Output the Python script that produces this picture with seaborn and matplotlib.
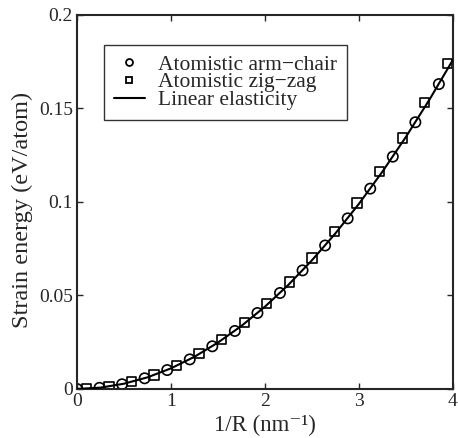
import seaborn as sns
import pandas as pd
import numpy as np
import matplotlib.pyplot as plt
from matplotlib.lines import Line2D

# data
armchair_x = [0.0, 0.24, 0.48, 0.72, 0.96, 1.2, 1.44, 1.68, 1.92, 2.16, 2.4, 2.64, 2.88, 3.12, 3.36, 3.6, 3.85]
armchair_y = [0.0, 0.0006, 0.0025, 0.0057, 0.0101, 0.0158, 0.0228, 0.0310, 0.0406, 0.0513,
              0.0634, 0.0767, 0.0912, 0.1071, 0.1242, 0.1426, 0.1630]
zigzag_x = [0.1, 0.34, 0.58, 0.82, 1.06, 1.3, 1.54, 1.78, 2.02, 2.26, 2.5, 2.74, 2.98, 3.22, 3.46, 3.7, 3.94]
zigzag_y = [0.0001, 0.0013, 0.0038, 0.0075, 0.0126, 0.0189, 0.0266, 0.0355, 0.0457, 0.0572,
            0.0700, 0.0841, 0.0995, 0.1161, 0.1341, 0.1533, 0.1739]
elastic_x = [0.0, 0.25, 0.5, 0.75, 1.0, 1.25, 1.5, 1.75, 2.0, 2.25, 2.5, 2.75, 3.0, 3.25, 3.5, 3.75, 4.0]
elastic_y = [0.0, 0.0007, 0.0028, 0.0062, 0.0110, 0.0172, 0.0248, 0.0337, 0.0440, 0.0557,
             0.0688, 0.0832, 0.0990, 0.1162, 0.1348, 0.1547, 0.1760]

xticks = [0, 1, 2, 3, 4]
yticks = [0, 0.05, 0.1, 0.15, 0.2]
ytick_labels = ['0', '0.05', '0.1', '0.15', '0.2']

sns.set_style('ticks')
plt.rcParams['font.family'] = ['Liberation Serif', 'DejaVu Serif']
plt.rcParams['mathtext.fontset'] = 'stix'

fig = plt.figure(figsize=(4.58, 4.38), dpi=100)
ax = fig.add_axes([0.168, 0.112, 0.821, 0.854])

arm = pd.DataFrame({'x': armchair_x, 'y': armchair_y})
zig = pd.DataFrame({'x': zigzag_x, 'y': zigzag_y})
ela = pd.DataFrame({'x': elastic_x, 'y': elastic_y})

sns.scatterplot(data=arm, x='x', y='y', ax=ax, marker='o', s=55,
                facecolors='none', edgecolors='black', linewidths=1.2, zorder=2)
sns.scatterplot(data=zig, x='x', y='y', ax=ax, marker='s', s=45,
                facecolors='none', edgecolors='black', linewidths=1.2, zorder=2)
sns.lineplot(data=ela, x='x', y='y', ax=ax, color='black', linewidth=1.5, zorder=3)

ax.set_xlim(0, 4)
ax.set_ylim(0, 0.2)
ax.set_xticks(xticks)
ax.set_xticklabels([str(t) for t in xticks])
ax.set_yticks(yticks)
ax.set_yticklabels(ytick_labels)
ax.tick_params(direction='in', length=4, width=1, labelsize=14, top=True, right=True)
ax.tick_params(axis='x', pad=3)
ax.tick_params(axis='y', pad=3)
for s in ax.spines.values():
    s.set_linewidth(1.5)
    s.set_visible(True)

ax.set_xlabel('1/R (nm\u207b\u00b9)', fontsize=16.5, va='bottom')
ax.xaxis.set_label_coords(0.5, -0.127)
ax.set_ylabel('Strain energy (eV/atom)', fontsize=17.5)
ax.yaxis.set_label_coords(-0.118, 0.478)

handles = [
    Line2D([], [], marker='o', ls='none', mfc='none', mec='black', ms=5, mew=1.3),
    Line2D([], [], marker='s', ls='none', mfc='none', mec='black', ms=5, mew=1.3),
    Line2D([], [], color='black', lw=1.5),
]
labels = ['Atomistic arm\u2212chair', 'Atomistic zig\u2212zag', 'Linear elasticity']
leg = ax.legend(handles, labels, loc='upper left', bbox_to_anchor=(0.072, 0.92),
                fontsize=15.5, frameon=True, fancybox=False, edgecolor='black',
                borderpad=0.45, labelspacing=-0.1, handlelength=1.45, handletextpad=0.6,
                borderaxespad=0)
leg.get_frame().set_linewidth(1.0)

fig.savefig('out.png', dpi=100)
